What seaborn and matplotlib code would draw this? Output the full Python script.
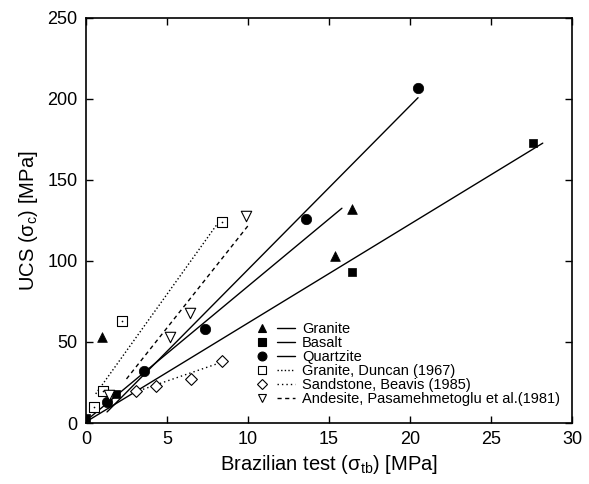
import matplotlib
matplotlib.use("Agg")
import matplotlib.pyplot as plt
from matplotlib.legend_handler import HandlerTuple
from matplotlib.lines import Line2D
import numpy as np
import pandas as pd
import seaborn as sns

# Measured points: Brazilian tensile strength (MPa) vs UCS (MPa)
granite_x = [1.0, 15.4, 16.4]
granite_y = [53, 103, 132]
basalt_x = [0.0, 1.85, 16.4, 27.6]
basalt_y = [3, 18, 93, 173]
quartzite_x = [1.3, 3.6, 7.35, 13.6, 20.5]
quartzite_y = [13, 32, 58, 126, 207]
duncan_x = [0.5, 1.05, 2.2, 8.4]
duncan_y = [10, 20, 63, 124]
beavis_x = [3.1, 4.3, 6.5, 8.4]
beavis_y = [20, 23, 27, 38]
andesite_x = [1.4, 5.2, 6.4, 9.9]
andesite_y = [17, 53, 68, 128]

# Linear fits: slope, intercept, x range
fit_slope = [8.3, 6.1, 10.1, 13.97, 3.44, 12.6]
fit_intercept = [1.4, 0.7, -6.3, 9.6, 8.7, -4.3]
fit_xmin = [0.3, 0.0, 1.3, 0.6, 3.0, 2.5]
fit_xmax = [15.8, 28.2, 20.5, 8.4, 8.4, 10.0]

labels = ["Granite", "Basalt", "Quartzite", "Granite, Duncan (1967)",
          "Sandstone, Beavis (1985)", "Andesite, Pasamehmetoglu et al.(1981)"]

xticks = [0, 5, 10, 15, 20, 25, 30]
yticks = [0, 50, 100, 150, 200, 250]

sns.set_theme(style="ticks")
plt.rcParams["font.family"] = ["Liberation Sans", "DejaVu Sans"]
plt.rcParams["mathtext.default"] = "regular"
plt.rcParams["text.color"] = "black"
plt.rcParams["axes.labelcolor"] = "black"

fig = plt.figure(figsize=(5.89, 4.84), dpi=100)
ax = fig.add_axes([0.146, 0.126, 0.825, 0.837])

series_x = [granite_x, basalt_x, quartzite_x, duncan_x, beavis_x, andesite_x]
series_y = [granite_y, basalt_y, quartzite_y, duncan_y, beavis_y, andesite_y]
markers = ["^", "s", "o", "s", "D", "v"]
filled = [True, True, True, False, False, False]
msizes = [7, 6, 7.5, 7, 6, 7.5]
linestyles = ["-", "-", "-", (0, (1, 1.6)), (0, (1, 2.2)), (0, (3, 2.5))]

frames = []
for i, lab in enumerate(labels):
    frames.append(pd.DataFrame({"x": series_x[i], "y": series_y[i], "series": lab}))
points = pd.concat(frames, ignore_index=True)

line_frames = []
for i, lab in enumerate(labels):
    xs = np.array([fit_xmin[i], fit_xmax[i]])
    line_frames.append(pd.DataFrame({"x": xs, "y": fit_slope[i] * xs + fit_intercept[i], "series": lab}))
lines = pd.concat(line_frames, ignore_index=True)

handles = []
for i, lab in enumerate(labels):
    sub_l = lines[lines.series == lab]
    sns.lineplot(data=sub_l, x="x", y="y", ax=ax, color="black", lw=1.0,
                 linestyle=linestyles[i], legend=False, sort=False)
    sub_p = points[points.series == lab]
    sns.scatterplot(data=sub_p, x="x", y="y", ax=ax, marker=markers[i],
                    s=msizes[i] ** 2,
                    facecolor="black" if filled[i] else "white",
                    edgecolor="black", linewidth=0.8 if not filled[i] else 0.5,
                    legend=False, zorder=3)
    if i == 3:
        # centre dot inside the open squares
        sns.scatterplot(data=sub_p, x="x", y="y", ax=ax, marker="o", s=1.5,
                        color="black", linewidth=0, legend=False, zorder=4)
    mk = Line2D([], [], marker=markers[i], ls="none", color="black",
                markersize=msizes[i] * 0.85,
                markerfacecolor="black" if filled[i] else "white",
                markeredgewidth=0.8)
    ln = Line2D([], [], color="black", lw=1.0, linestyle=linestyles[i] if i >= 3 else "-")
    handles.append((mk, ln))

leg = ax.legend(handles, labels, handler_map={tuple: HandlerTuple(ndivide=None, pad=0.4)},
                loc="upper left", bbox_to_anchor=(0.344, 0.25), frameon=False,
                fontsize=10.5, handlelength=2.9, handletextpad=0.45,
                labelspacing=0.0, borderpad=0, borderaxespad=0)
for t in leg.get_texts():
    t.set_color("black")

ax.set_xlim(0, 30)
ax.set_ylim(0, 250)
ax.set_xticks(xticks)
ax.set_yticks(yticks)
ax.tick_params(direction="in", top=True, right=True, length=5, width=1,
               labelsize=13, colors="black", pad=6)
for sp in ax.spines.values():
    sp.set_linewidth(1.2)
    sp.set_color("black")
ax.set_xlabel("Brazilian test (σ$_{tb}$) [MPa]", fontsize=14.5, labelpad=3)
ax.set_ylabel("UCS (σ$_{c}$) [MPa]", fontsize=14.5, labelpad=5)

fig.savefig("out.png", dpi=100)
